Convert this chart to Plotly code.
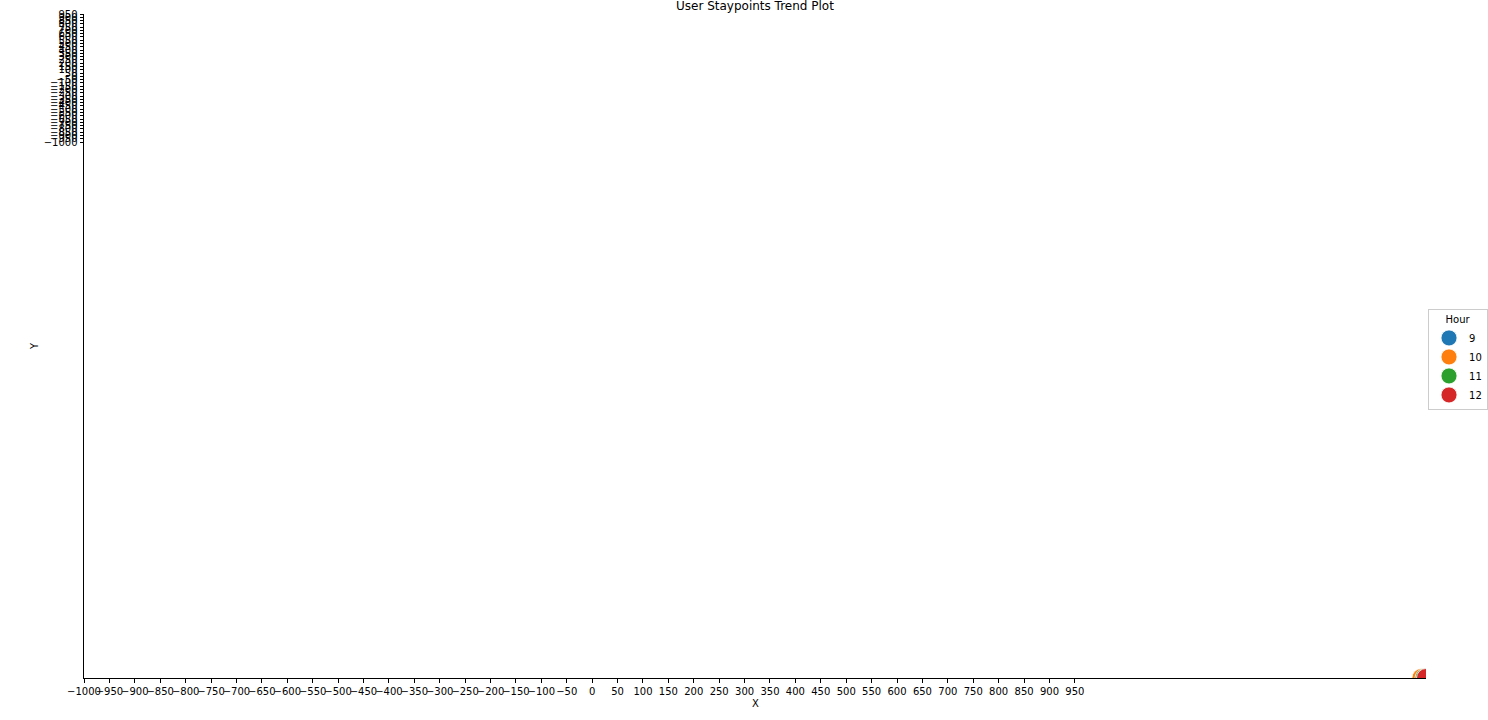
import plotly.graph_objects as go

# Data (all points lie at the lower-right corner of the axes)
hours = [9, 10, 11, 12]
x_vals = [1636, 1632, 1638, 1641]
y_vals = [-9166, -9166, -9166, -9166]
colors = ["#1f77b4", "#ff7f0e", "#2ca02c", "#d62728"]

x_ticks = [-1000, -950, -900, -850, -800, -750, -700, -650, -600, -550,
           -500, -450, -400, -350, -300, -250, -200, -150, -100, -50,
           0, 50, 100, 150, 200, 250, 300, 350, 400, 450,
           500, 550, 600, 650, 700, 750, 800, 850, 900, 950]
y_ticks = list(x_ticks)

x_range = [-1000, 1641]
y_range = [-9166, 950]

FONT = "DejaVu Sans"

fig = go.Figure()
for h, xv, yv, c in zip(hours, x_vals, y_vals, colors):
    fig.add_trace(go.Scatter(
        x=[xv], y=[yv], mode="markers", name=str(h),
        marker=dict(color=c, size=19, line=dict(color="white", width=0.8)),
        cliponaxis=True,
    ))

axis_common = dict(
    showgrid=False, zeroline=False, showline=True, linecolor="black",
    linewidth=1, ticks="outside", ticklen=3.5, tickwidth=1, tickcolor="black",
    tickmode="array", tickfont=dict(family=FONT, size=10, color="black"),
    mirror=False, automargin=False,
)

fig.update_xaxes(range=x_range, tickvals=x_ticks,
                 ticktext=[("\u2212" + str(-v)) if v < 0 else str(v) for v in x_ticks],
                 tickangle=0, **axis_common)
fig.update_yaxes(range=y_range, tickvals=y_ticks,
                 ticktext=[("\u2212" + str(-v)) if v < 0 else str(v) for v in y_ticks],
                 **axis_common)

fig.update_layout(
    width=1488, height=720,
    margin=dict(l=84, r=62, t=14, b=42, autoexpand=False),
    paper_bgcolor="white", plot_bgcolor="white",
    font=dict(family=FONT, size=10, color="black"),
    showlegend=True,
    legend=dict(
        title=dict(text="Hour", side="top center", font=dict(family=FONT, size=10)),
        x=1.0015, xanchor="left", y=0.479, yanchor="middle",
        bordercolor="#cccccc", borderwidth=1, bgcolor="white",
        font=dict(family=FONT, size=10), itemsizing="trace",
        itemwidth=30, tracegroupgap=0,
    ),
    annotations=[
        dict(text="User Staypoints Trend Plot", xref="paper", yref="paper",
             x=0.5, y=1, xanchor="center", yanchor="bottom", yshift=-1,
             showarrow=False, font=dict(family=FONT, size=12, color="black")),
        dict(text="X", xref="paper", yref="paper", x=0.5, y=0,
             xanchor="center", yanchor="middle", yshift=-25,
             showarrow=False, font=dict(family=FONT, size=10, color="black")),
        dict(text="Y", xref="paper", yref="paper", x=0, y=0.5,
             xanchor="center", yanchor="middle", xshift=-50, textangle=-90,
             showarrow=False, font=dict(family=FONT, size=10, color="black")),
    ],
)

fig.write_html("out.html")
